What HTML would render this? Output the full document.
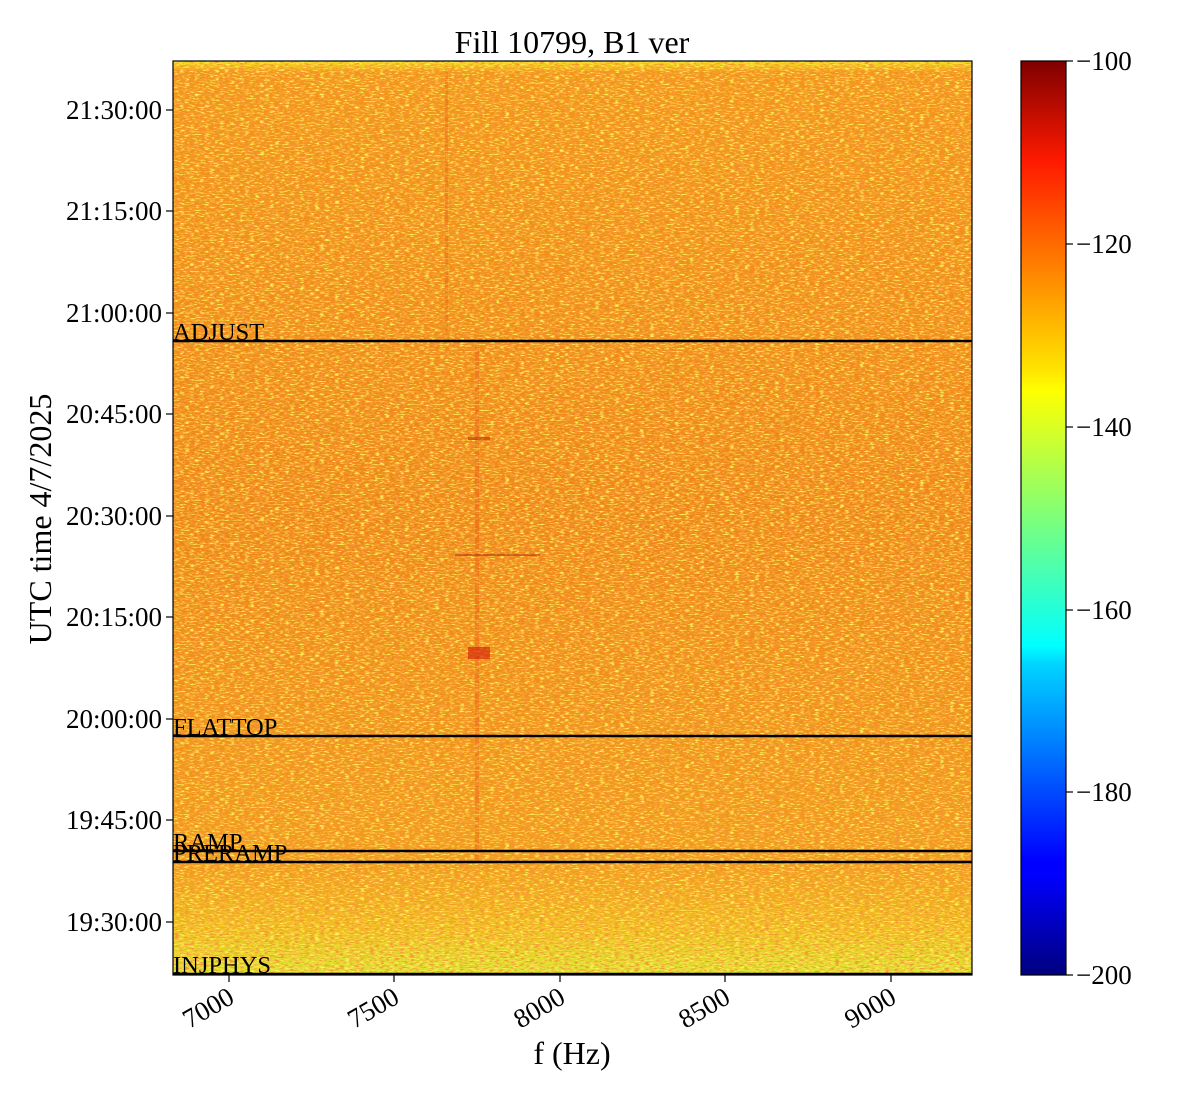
<!DOCTYPE html>
<html><head><meta charset="utf-8"><style>
body{margin:0;background:#fff;}
svg text{font-family:"Liberation Serif",serif;fill:#000;}
</style></head><body>
<svg width="1200" height="1100" viewBox="0 0 1200 1100" xmlns="http://www.w3.org/2000/svg">
<defs>
<linearGradient id="bg" x1="0" y1="0" x2="0" y2="1">
<stop offset="0" stop-color="#f2e81a"/>
<stop offset="0.012" stop-color="#f39418"/>
<stop offset="0.5" stop-color="#ee8416"/>
<stop offset="0.88" stop-color="#f29a1a"/>
<stop offset="0.95" stop-color="#f0c01e"/>
<stop offset="1" stop-color="#d8ea30"/>
</linearGradient>
<filter id="nz" x="0" y="0" width="100%" height="100%">
<feTurbulence type="fractalNoise" baseFrequency="0.2 0.7" numOctaves="2" seed="3"/>
<feColorMatrix type="matrix" values="0 0 0 0 1  0 0 0 0 0.88  0 0 0 0 0.1  4 0 0 0 -1.9"/>
</filter>
<filter id="nz2" x="0" y="0" width="100%" height="100%">
<feTurbulence type="fractalNoise" baseFrequency="0.2 0.7" numOctaves="2" seed="9"/>
<feColorMatrix type="matrix" values="0 0 0 0 0.92  0 0 0 0 0.3  0 0 0 0 0.04  4 0 0 0 -1.9"/>
</filter>
<linearGradient id="jet" x1="0" y1="1" x2="0" y2="0">
<stop offset="0" stop-color="#00007f"/>
<stop offset="0.11" stop-color="#0000ff"/>
<stop offset="0.125" stop-color="#0000ff"/>
<stop offset="0.34" stop-color="#00d4ff"/>
<stop offset="0.36" stop-color="#0ff"/>
<stop offset="0.5" stop-color="#7dff7a"/>
<stop offset="0.64" stop-color="#ff0"/>
<stop offset="0.66" stop-color="#ffe600"/>
<stop offset="0.89" stop-color="#ff1a00"/>
<stop offset="1" stop-color="#7f0000"/>
</linearGradient>
</defs>
<rect x="173" y="61" width="799" height="914" fill="url(#bg)"/>
<rect x="173" y="61" width="799" height="914" filter="url(#nz)"/>
<rect x="173" y="61" width="799" height="914" filter="url(#nz2)"/>
<rect x="475" y="345" width="4" height="515" fill="#e84010" opacity="0.25"/>
<rect x="445" y="72" width="3" height="260" fill="#e84010" opacity="0.25"/>
<rect x="468" y="647" width="22" height="12" fill="#d01808" opacity="0.6"/>
<rect x="455" y="554" width="85" height="2" fill="#b02010" opacity="0.5"/>
<rect x="468" y="437" width="22" height="3" fill="#b02010" opacity="0.5"/>
<g stroke="#000" stroke-width="2.5">
<line x1="173" y1="341" x2="972" y2="341"/>
<line x1="173" y1="736" x2="972" y2="736"/>
<line x1="173" y1="851" x2="972" y2="851"/>
<line x1="173" y1="862" x2="972" y2="862"/>
<line x1="173" y1="974" x2="972" y2="974"/>
</g>
<g font-size="24.5">
<text x="173" y="340">ADJUST</text>
<text x="173" y="735">FLATTOP</text>
<text x="173" y="850">RAMP</text>
<text x="173" y="861">PRERAMP</text>
<text x="173" y="973">INJPHYS</text>
</g>
<rect x="173" y="61" width="799" height="914" fill="none" stroke="#000" stroke-width="1.2"/>
<g stroke="#000" stroke-width="1.2">
<line x1="166" y1="110" x2="173" y2="110"/><line x1="166" y1="211" x2="173" y2="211"/>
<line x1="166" y1="313" x2="173" y2="313"/><line x1="166" y1="414" x2="173" y2="414"/>
<line x1="166" y1="516" x2="173" y2="516"/><line x1="166" y1="617" x2="173" y2="617"/>
<line x1="166" y1="719" x2="173" y2="719"/><line x1="166" y1="820" x2="173" y2="820"/>
<line x1="166" y1="922" x2="173" y2="922"/>
<line x1="229" y1="975" x2="229" y2="982"/><line x1="394" y1="975" x2="394" y2="982"/>
<line x1="560" y1="975" x2="560" y2="982"/><line x1="725" y1="975" x2="725" y2="982"/>
<line x1="891" y1="975" x2="891" y2="982"/>
</g>
<g font-size="27" text-anchor="end">
<text x="162" y="119">21:30:00</text><text x="162" y="220">21:15:00</text>
<text x="162" y="322">21:00:00</text><text x="162" y="423">20:45:00</text>
<text x="162" y="525">20:30:00</text><text x="162" y="626">20:15:00</text>
<text x="162" y="728">20:00:00</text><text x="162" y="829">19:45:00</text>
<text x="162" y="931">19:30:00</text>
<text transform="translate(236,1002) rotate(-30)">7000</text>
<text transform="translate(401,1002) rotate(-30)">7500</text>
<text transform="translate(567,1002) rotate(-30)">8000</text>
<text transform="translate(732,1002) rotate(-30)">8500</text>
<text transform="translate(898,1002) rotate(-30)">9000</text>
</g>
<text x="572" y="1064" font-size="32" text-anchor="middle">f (Hz)</text>
<text transform="translate(51,519) rotate(-90)" font-size="32" text-anchor="middle">UTC time 4/7/2025</text>
<text x="572" y="53" font-size="32" text-anchor="middle">Fill 10799, B1 ver</text>
<rect x="1021" y="61" width="45" height="914" fill="url(#jet)" stroke="#000" stroke-width="1.2"/>
<g stroke="#000" stroke-width="1.2">
<line x1="1066" y1="61" x2="1073" y2="61"/><line x1="1066" y1="244" x2="1073" y2="244"/>
<line x1="1066" y1="427" x2="1073" y2="427"/><line x1="1066" y1="610" x2="1073" y2="610"/>
<line x1="1066" y1="792" x2="1073" y2="792"/><line x1="1066" y1="975" x2="1073" y2="975"/>
</g>
<g font-size="27">
<text x="1076" y="70">−100</text><text x="1076" y="253">−120</text>
<text x="1076" y="436">−140</text><text x="1076" y="619">−160</text>
<text x="1076" y="801">−180</text><text x="1076" y="984">−200</text>
</g>
</svg>
</body></html>
